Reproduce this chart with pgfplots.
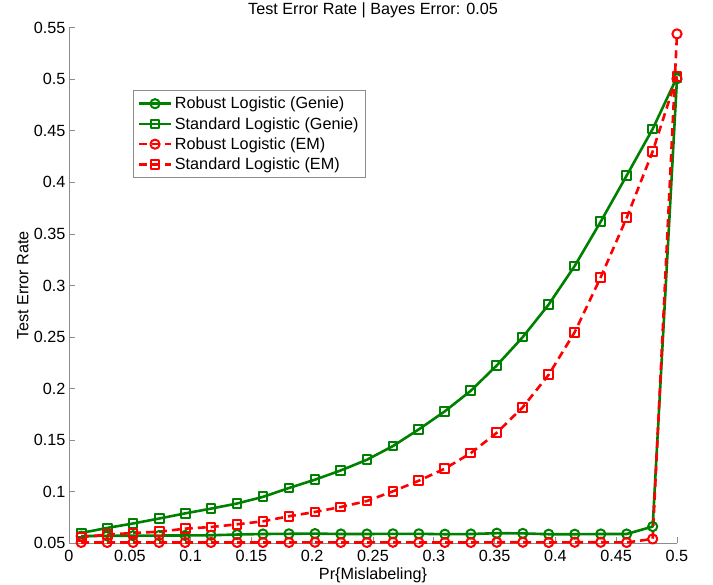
\documentclass[border=0pt]{standalone}
\usepackage{fontspec}
\setmainfont{Liberation Sans}
\usepackage{pgfplots}
\usepackage{pgfplotstable}
\pgfplotsset{compat=1.18}

\definecolor{mgreen}{rgb}{0,0.5,0}
\definecolor{axgray}{gray}{0.55}
\newcommand\chartfont{\fontsize{16.2}{19}\selectfont}

% p: probability of mislabeling
% rg/sg: robust / standard logistic with genie noise rate
% re/se: robust / standard logistic with EM-estimated noise rate
\pgfplotstableread{
p      rg     sg     re     se
0.0100 0.0570 0.0600 0.0508 0.0561
0.0314 0.0572 0.0649 0.0508 0.0584
0.0527 0.0574 0.0692 0.0508 0.0600
0.0741 0.0575 0.0740 0.0508 0.0612
0.0955 0.0576 0.0790 0.0508 0.0642
0.1168 0.0578 0.0836 0.0508 0.0658
0.1382 0.0585 0.0886 0.0508 0.0684
0.1595 0.0590 0.0950 0.0508 0.0713
0.1809 0.0592 0.1036 0.0508 0.0762
0.2023 0.0594 0.1117 0.0510 0.0804
0.2236 0.0590 0.1207 0.0508 0.0852
0.2450 0.0590 0.1310 0.0508 0.0910
0.2664 0.0592 0.1443 0.0510 0.1004
0.2877 0.0592 0.1605 0.0508 0.1107
0.3091 0.0588 0.1780 0.0508 0.1224
0.3305 0.0590 0.1980 0.0508 0.1375
0.3518 0.0598 0.2225 0.0510 0.1572
0.3732 0.0596 0.2500 0.0510 0.1820
0.3945 0.0588 0.2816 0.0508 0.2135
0.4159 0.0588 0.3190 0.0510 0.2548
0.4373 0.0590 0.3620 0.0510 0.3080
0.4586 0.0590 0.4066 0.0508 0.3656
0.4800 0.0662 0.4518 0.0542 0.4300
0.5000 0.5005 0.5020 0.5440 0.5030
}\errtab

\begin{document}
\begin{tikzpicture}
\path[use as bounding box] (-69pt,-41.7pt) rectangle (644pt,543.3pt);
\begin{axis}[
  scale only axis,
  width=608pt, height=515.6pt,
  xmin=0, xmax=0.5, ymin=0.05, ymax=0.55,
  clip=false,
  axis lines*=left,
  axis line style={axgray, line width=0.8pt},
  tick align=inside,
  major tick length=6pt,
  tick style={axgray, line width=0.8pt},
  xtick={0,0.05,0.1,0.15,0.2,0.25,0.3,0.35,0.4,0.45,0.5},
  ytick={0.05,0.1,0.15,0.2,0.25,0.3,0.35,0.4,0.45,0.5,0.55},
  /pgf/number format/.cd, fixed, precision=2, assume math mode=true,
  /pgfplots/.cd,
  tick label style={font=\chartfont, black},
  xticklabel style={anchor=base, yshift=-18.4pt},
  yticklabel style={inner sep=0pt, xshift=-3.5pt},
  title={Test Error Rate | Bayes Error: 0.05},
  title style={font=\chartfont, at={(0.5,1)}, anchor=base, yshift=6.7pt},
  xlabel={Pr\{Mislabeling\}},
  xlabel style={font=\chartfont, at={(axis description cs:0.5,0)}, anchor=base, yshift=-36pt},
  ylabel={Test Error Rate},
  ylabel style={font=\chartfont, at={(axis description cs:-0.076,0.5)}, anchor=center},
  legend cell align=left,
  legend style={
    at={(0.1058,0.879)}, anchor=north west,
    draw=axgray, line width=0.8pt, fill=white,
    font=\chartfont,
    inner xsep=4pt, inner ysep=4pt,
    row sep=1.8pt,
    nodes={inner sep=2.6pt},
  },
  legend image code/.code={
    \draw[mark repeat=2, mark phase=2] plot coordinates {(0pt,0pt) (16pt,0pt) (32pt,0pt)};
  },
  every axis plot/.append style={line width=2.6pt, line join=round},
]
\addplot[mgreen, mark=o, mark size=4.6pt, mark options={solid, line width=2pt}]
  table[x=p, y=rg] {\errtab};
\addlegendentry{Robust Logistic (Genie)}
\addplot[mgreen, mark=square, mark size=4.4pt, mark options={solid, line width=2pt}]
  table[x=p, y=sg] {\errtab};
\addlegendentry{Standard Logistic (Genie)}
\addplot[red, dash pattern=on 8pt off 5pt, mark=o, mark size=4.6pt, mark options={solid, line width=2pt}]
  table[x=p, y=re] {\errtab};
\addlegendentry{Robust Logistic (EM)}
\addplot[red, dash pattern=on 8pt off 5pt, mark=square, mark size=4.4pt, mark options={solid, line width=2pt}]
  table[x=p, y=se] {\errtab};
\addlegendentry{Standard Logistic (EM)}
\end{axis}
\end{tikzpicture}
\end{document}
